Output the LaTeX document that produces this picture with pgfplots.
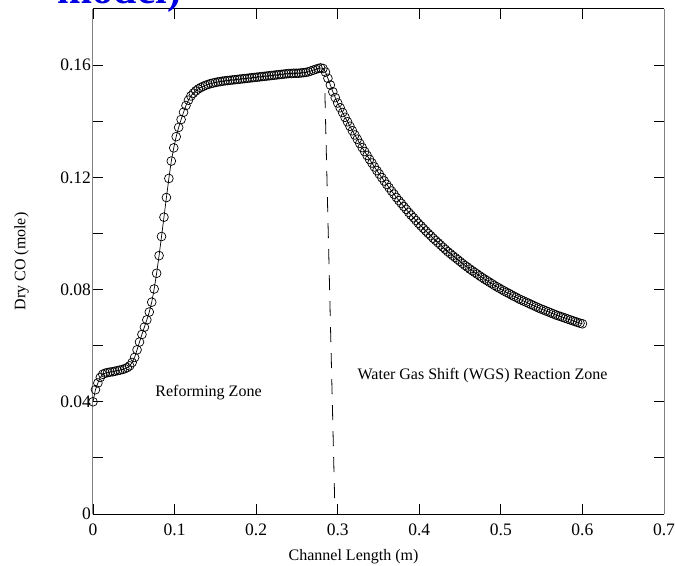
\documentclass[border=0pt]{standalone}
\usepackage{fontspec}
\setmainfont{Liberation Serif}
\usepackage{pgfplots}
\pgfplotsset{compat=1.18}
\definecolor{tblue}{RGB}{0,0,225}
\begin{document}
\begin{tikzpicture}
\begin{axis}[
  at={(0,0)}, anchor=south west,
  scale only axis, width=571bp, height=505bp,
  xmin=0, xmax=0.7, ymin=0, ymax=0.18,
  xtick={0,0.1,0.2,0.3,0.4,0.5,0.6,0.7},
  xticklabels={0,0.1,0.2,0.3,0.4,0.5,0.6,0.7},
  ytick={0,0.04,0.08,0.12,0.16},
  yticklabels={0,0.04,0.08,0.12,0.16},
  minor ytick={0.02,0.06,0.10,0.14},
  major tick length=10bp, minor tick length=10bp,
  tick align=inside,
  tick style={black, line width=0.8bp},
  separate axis lines,
  every outer x axis line/.append style={black, line width=1bp},
  every outer y axis line/.append style={gray, line width=1bp},
  tick label style={font=\fontsize{17.5bp}{20bp}\selectfont},
  xticklabel style={yshift=-6bp},
  yticklabel style={xshift=1.5bp},
  clip=false,
]
\addplot[black, line width=0.7bp, mark=o, mark size=4.4bp, mark options={line width=0.7bp, solid}] table {
x y
0.000 0.0400
0.003 0.0443
0.006 0.0467
0.009 0.0487
0.012 0.0498
0.015 0.0502
0.018 0.0504
0.021 0.0506
0.024 0.0507
0.027 0.0509
0.030 0.0511
0.033 0.0513
0.036 0.0515
0.039 0.0518
0.042 0.0522
0.045 0.0528
0.048 0.0540
0.051 0.0558
0.054 0.0585
0.057 0.0613
0.060 0.0640
0.063 0.0666
0.066 0.0692
0.069 0.0720
0.072 0.0755
0.075 0.0802
0.078 0.0858
0.081 0.0921
0.084 0.0989
0.087 0.1058
0.090 0.1128
0.093 0.1196
0.096 0.1258
0.099 0.1305
0.102 0.1345
0.105 0.1378
0.108 0.1406
0.111 0.1432
0.114 0.1456
0.117 0.1475
0.120 0.1490
0.123 0.1500
0.126 0.1508
0.129 0.1515
0.132 0.1520
0.135 0.1524
0.138 0.1528
0.141 0.1531
0.144 0.1534
0.147 0.1536
0.150 0.1538
0.153 0.1540
0.156 0.1541
0.159 0.1543
0.162 0.1544
0.165 0.1545
0.168 0.1546
0.171 0.1547
0.174 0.1548
0.177 0.1549
0.180 0.1550
0.183 0.1551
0.186 0.1552
0.189 0.1553
0.192 0.1554
0.195 0.1555
0.198 0.1556
0.201 0.1557
0.204 0.1558
0.207 0.1559
0.210 0.1560
0.213 0.1561
0.216 0.1562
0.219 0.1563
0.222 0.1564
0.225 0.1565
0.228 0.1566
0.231 0.1567
0.234 0.1568
0.237 0.1569
0.240 0.1570
0.243 0.1570
0.246 0.1571
0.249 0.1571
0.252 0.1571
0.255 0.1572
0.258 0.1573
0.261 0.1574
0.264 0.1576
0.267 0.1579
0.270 0.1582
0.273 0.1585
0.276 0.1588
0.279 0.1590
0.282 0.1588
0.285 0.1575
0.288 0.1553
0.291 0.1529
0.294 0.1505
0.297 0.1484
0.300 0.1465
0.303 0.1448
0.306 0.1431
0.309 0.1414
0.312 0.1398
0.315 0.1382
0.318 0.1366
0.321 0.1351
0.324 0.1336
0.327 0.1321
0.330 0.1306
0.333 0.1292
0.336 0.1278
0.339 0.1264
0.342 0.1251
0.345 0.1237
0.348 0.1224
0.351 0.1212
0.354 0.1199
0.357 0.1187
0.360 0.1175
0.363 0.1163
0.366 0.1151
0.369 0.1140
0.372 0.1128
0.375 0.1117
0.378 0.1107
0.381 0.1096
0.384 0.1086
0.387 0.1075
0.390 0.1065
0.393 0.1056
0.396 0.1046
0.399 0.1036
0.402 0.1027
0.405 0.1018
0.408 0.1009
0.411 0.1000
0.414 0.0992
0.417 0.0983
0.420 0.0975
0.423 0.0967
0.426 0.0959
0.429 0.0951
0.432 0.0943
0.435 0.0935
0.438 0.0928
0.441 0.0921
0.444 0.0914
0.447 0.0907
0.450 0.0900
0.453 0.0893
0.456 0.0886
0.459 0.0880
0.462 0.0873
0.465 0.0867
0.468 0.0861
0.471 0.0855
0.474 0.0849
0.477 0.0843
0.480 0.0837
0.483 0.0832
0.486 0.0826
0.489 0.0821
0.492 0.0815
0.495 0.0810
0.498 0.0805
0.501 0.0800
0.504 0.0795
0.507 0.0790
0.510 0.0786
0.513 0.0781
0.516 0.0776
0.519 0.0772
0.522 0.0767
0.525 0.0763
0.528 0.0759
0.531 0.0755
0.534 0.0751
0.537 0.0747
0.540 0.0743
0.543 0.0739
0.546 0.0735
0.549 0.0731
0.552 0.0728
0.555 0.0724
0.558 0.0721
0.561 0.0717
0.564 0.0714
0.567 0.0710
0.570 0.0707
0.573 0.0704
0.576 0.0701
0.579 0.0698
0.582 0.0695
0.585 0.0692
0.588 0.0689
0.591 0.0686
0.594 0.0683
0.597 0.0680
0.600 0.0678
};
\addplot[black, line width=0.8bp, dash pattern=on 15bp off 11bp] coordinates {(0.2843,0.1500) (0.2965,0.0020)};
\node[font=\fontsize{16bp}{19bp}\selectfont] at (axis cs:0.1416,0.0431) {Reforming Zone};
\node[font=\fontsize{16bp}{19bp}\selectfont] at (axis cs:0.4775,0.0495) {Water Gas Shift (WGS) Reaction Zone};
\node[font=\fontsize{16bp}{19bp}\selectfont, anchor=base] at (axis cs:0.3194,0) [yshift=-46bp] {Channel Length (m)};
\end{axis}
\node[font=\fontsize{16bp}{19bp}\selectfont, rotate=90, inner sep=0pt] at (-71.5bp,252.5bp) {Dry CO (mole)};
\node[font=\fontsize{42bp}{50bp}\selectfont\bfseries, text=tblue, anchor=base, inner sep=0pt] at (26.5bp,510bp) {model)};
\pgfresetboundingbox
\useasboundingbox (-93bp,-52bp) rectangle (582bp,514bp);
\end{tikzpicture}
\end{document}
